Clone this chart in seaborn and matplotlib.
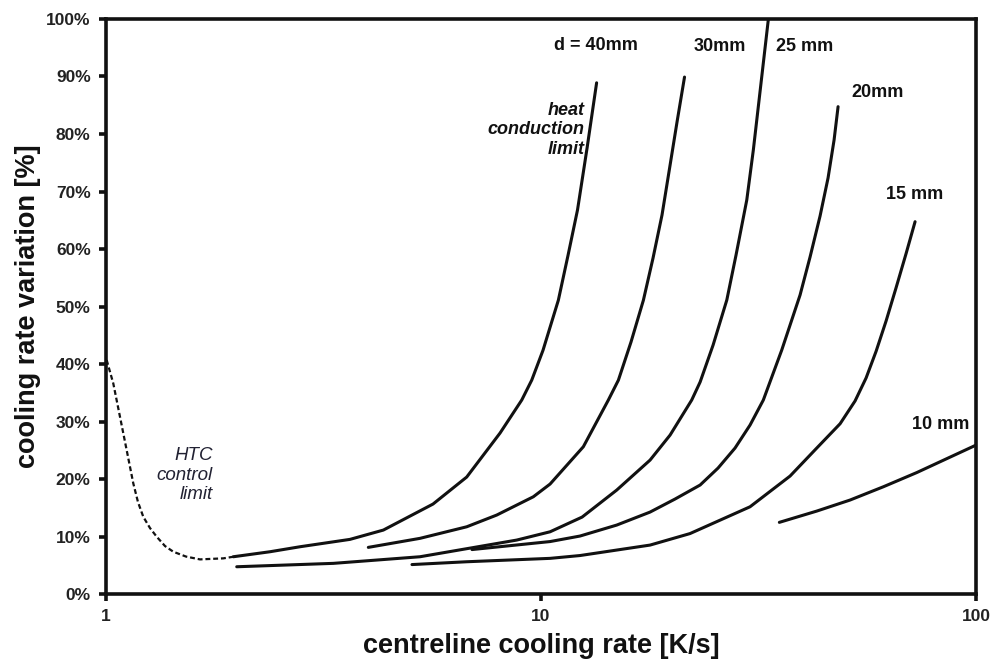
import numpy as np
import pandas as pd
import matplotlib
matplotlib.use("Agg")
import matplotlib.pyplot as plt
import seaborn as sns
from matplotlib.ticker import PercentFormatter, FixedLocator, NullLocator

# values (x in K/s, y in %)
htc_x = [1.0037, 1.0394, 1.077, 1.1157, 1.1556, 1.1846, 1.2183, 1.2624, 1.308, 1.3668,
         1.4282, 1.5275, 1.6446, 1.8609, 1.962]
htc_y = [40.7, 36.64, 30.83, 25.04, 19.25, 16.0, 13.44, 11.48, 9.97, 8.35,
         7.36, 6.52, 6.03, 6.21, 6.49]

d40_x = [1.962, 2.382, 2.793, 3.638, 4.341, 5.645, 6.748, 8.05, 9.03, 9.52, 10.106, 10.96,
         11.54, 12.13, 12.76, 13.42]
d40_y = [6.49, 7.36, 8.23, 9.51, 11.13, 15.65, 20.35, 28.0, 33.74, 37.2, 42.4, 51.1,
         58.96, 66.8, 77.57, 88.9]

d30_x = [4.009, 5.27, 6.748, 7.91, 9.601, 10.49, 12.51, 14.28, 15.06, 16.10, 17.19, 18.09,
         18.97, 19.80, 20.54, 21.37]
d30_y = [8.12, 9.69, 11.7, 13.74, 16.92, 19.13, 25.62, 33.74, 37.2, 43.83, 51.1, 58.43,
         65.91, 74.61, 82.09, 89.9]

d25_x = [1.998, 3.331, 5.27, 8.793, 10.49, 12.43, 14.93, 17.81, 19.80, 22.2, 23.21, 24.86,
         26.73, 28.07, 29.71, 30.76, 33.31]
d25_y = [4.75, 5.34, 6.49, 9.39, 10.83, 13.39, 18.09, 23.3, 27.65, 33.74, 36.87, 43.3,
         51.13, 58.96, 68.52, 77.22, 100.0]

d20_x = [6.94, 10.49, 12.29, 14.93, 17.81, 20.32, 23.21, 25.52, 27.92, 30.23, 32.43, 35.75,
         39.39, 41.53, 43.79, 45.68, 47.16, 48.17]
d20_y = [7.74, 9.13, 10.09, 12.0, 14.26, 16.52, 18.96, 21.91, 25.39, 29.39, 33.74, 42.43,
         52.0, 58.61, 65.74, 72.35, 78.96, 84.75]

d15_x = [5.051, 6.748, 10.49, 12.29, 17.81, 22.0, 30.23, 37.36, 43.03, 48.69, 52.70, 55.87,
         58.90, 62.11, 65.49, 69.05, 72.4]
d15_y = [5.13, 5.62, 6.21, 6.7, 8.52, 10.52, 15.18, 20.52, 25.39, 29.62, 33.58, 37.58,
         42.21, 47.5, 53.29, 59.23, 64.75]

d10_x = [35.3, 43.03, 51.32, 61.22, 73.06, 100.0]
d10_y = [12.47, 14.43, 16.35, 18.66, 21.13, 25.91]

curve_names = ["40", "30", "25", "20", "15", "10"]
curve_x = [d40_x, d30_x, d25_x, d20_x, d15_x, d10_x]
curve_y = [d40_y, d30_y, d25_y, d20_y, d15_y, d10_y]

label_text = ["d = 40mm", "30mm", "25 mm", "20mm", "15 mm", "10 mm"]
label_x = [13.38, 25.8, 40.4, 59.5, 72.4, 83.1]
label_y = [95.4, 95.3, 95.3, 87.2, 69.5, 29.4]

x_ticks = [1, 10, 100]
y_ticks = [0, 10, 20, 30, 40, 50, 60, 70, 80, 90, 100]

sns.set_theme(style="ticks")
plt.rcParams['font.family'] = ['Liberation Sans', 'DejaVu Sans']

fig = plt.figure(figsize=(9.95, 6.66), dpi=100)
ax = fig.add_axes([0.1065, 0.108, 0.8745, 0.8635])

for name, xs, ys in zip(curve_names, curve_x, curve_y):
    df = pd.DataFrame({"rate": xs, "var": ys})
    sns.lineplot(data=df, x="rate", y="var", ax=ax, color="#111111",
                 linewidth=2.2, sort=False, estimator=None)

htc = pd.DataFrame({"rate": htc_x, "var": htc_y})
sns.lineplot(data=htc, x="rate", y="var", ax=ax, color="#111111",
             linewidth=1.6, sort=False, estimator=None, linestyle=(0, (2.2, 1.3)))

ax.set_xscale("log")
ax.set_xlim(1, 100)
ax.set_ylim(0, 100)
ax.xaxis.set_major_locator(FixedLocator(x_ticks))
ax.xaxis.set_minor_locator(NullLocator())
ax.set_xticklabels([str(t) for t in x_ticks])
ax.yaxis.set_major_locator(FixedLocator(y_ticks))
ax.yaxis.set_major_formatter(PercentFormatter(decimals=0))

for s in ax.spines.values():
    s.set_linewidth(2.6)
    s.set_color("#111111")
ax.tick_params(axis="both", which="major", length=5, width=2.6, color="#111111",
               labelsize=12.5, pad=6)
for lab in ax.get_xticklabels() + ax.get_yticklabels():
    lab.set_fontweight("bold")
    lab.set_color("#222222")

ax.set_xlabel("centreline cooling rate [K/s]", fontsize=19.5, fontweight="bold",
              color="#111111", labelpad=6)
ax.set_ylabel("cooling rate variation [%]", fontsize=19.5, fontweight="bold",
              color="#111111", labelpad=4)

for t, x, y in zip(label_text, label_x, label_y):
    ax.text(x, y, t, ha="center", va="center", fontsize=13, fontweight="bold",
            color="#111111")

ax.text(12.6, 80.7, "heat\nconduction\nlimit", ha="right", va="center",
        fontsize=13, fontweight="bold", style="italic", color="#111111",
        linespacing=1.2)
ax.text(1.76, 20.7, "HTC\ncontrol\nlimit", ha="right", va="center",
        fontsize=13.5, style="italic", color="#222233", linespacing=1.2)

fig.savefig("out.png", dpi=100, facecolor="white")
